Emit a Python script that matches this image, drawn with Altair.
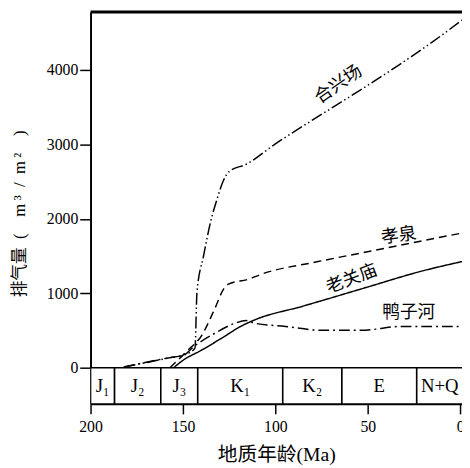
import altair as alt
import pandas as pd

# ---- data ----
# 合兴场 (dash-dot-dot)
ma_hxc = [182, 158, 148, 143.5, 142.4, 138.9, 134.4, 131.8, 128.2, 124.8, 115.8, 99.8, 77.4, 54.5, 33.2, 10.2, -1]
v_hxc = [10, 130, 185, 264, 1016, 1496, 2024, 2244, 2508, 2640, 2733, 3010, 3366, 3723, 4066, 4462, 4670]
# 孝泉 (dashed)
ma_xq = [157, 147.8, 139.8, 132.8, 128, 125.4, 114.7, 107.8, 76.9, 50.2, 23.6, -1]
v_xq = [0, 224, 436, 792, 1056, 1122, 1188, 1254, 1426, 1558, 1690, 1809]
# 老关庙 (solid)
ma_lgm = [155, 150.4, 139.8, 129.1, 118.4, 110.4, 85.4, 50.2, 21.4, -1]
v_lgm = [0, 92, 238, 396, 560, 650, 825, 1083, 1294, 1426]
# 鸭子河 (dash-dot)
ma_yzh = [182, 158, 149.4, 145.1, 132.8, 122.2, 115.8, 111.5, 94.5, 74.7, 53.4, 32.1, -1]
v_yzh = [10, 132, 170, 264, 462, 594, 634, 600, 554, 502, 502, 554, 554]

series_names = ["合兴场", "孝泉", "老关庙", "鸭子河"]
series_dash = [[12, 3, 1.5, 3, 1.5, 3], [8, 5], [1, 0], [11, 4, 2, 4]]
label_ma = [65.7, 33.2, 58.7, 27.8]
label_v = [3802, 1769, 1188, 739]
label_angle = [325, 352, 339, 0]

# stratigraphic column
band_labels = ["J₁", "J₂", "J₃", "K₁", "K₂", "E", "N+Q"]
band_start = [200, 187, 162, 142, 96, 64, 23.5]
band_end = [187, 162, 142, 96, 64, 23.5, -6]
band_label_ma = [193.5, 174.5, 152, 119, 80, 43.75, 11]

x_ticks = [200, 150, 100, 50, 0]
y_ticks = [0, 1000, 2000, 3000, 4000]
x_dom = [200, -1]
y_dom = [-488, 4779]
band_bottom = -488

W, H = 378, 399
SERIF = "'Liberation Serif', 'Noto Sans CJK SC', serif"
CJK = "'Noto Sans CJK SC'"

y_title = "排气量\u2002(\u2003m\u2009³\u2002/\u2002m\u2009²\u2003)"

rows = []
for name, mas, vs in [("合兴场", ma_hxc, v_hxc), ("孝泉", ma_xq, v_xq),
                      ("老关庙", ma_lgm, v_lgm), ("鸭子河", ma_yzh, v_yzh)]:
    for i, (m, v) in enumerate(zip(mas, vs)):
        rows.append({"series": name, "ma": m, "v": v, "order": i})
df = pd.DataFrame(rows)

xs = alt.Scale(domain=x_dom, nice=False, zero=False)
ys = alt.Scale(domain=y_dom, nice=False, zero=False)

x_axis = alt.Axis(values=x_ticks, title="地质年龄(Ma)", grid=False, tickSize=10,
                  labelPadding=5, labelFontSize=16, labelFont=SERIF, domainColor="black",
                  domainWidth=1.6, tickColor="black", tickWidth=1.5, labelColor="black",
                  titleFont=SERIF, titleFontSize=20, titleFontWeight="normal",
                  titlePadding=10, titleColor="black", labelFlush=False)
y_axis = alt.Axis(values=y_ticks, title=y_title, grid=False, tickSize=11,
                  labelPadding=2, labelFontSize=16, labelFont=SERIF, domainColor="black",
                  domainWidth=2, tickColor="black", tickWidth=1.5, labelColor="black",
                  titleFont=SERIF, titleFontSize=17, titleFontWeight="normal",
                  titleColor="black", titleX=-72, titleY=205, titleBaseline="middle",
                  titleAngle=270, format="d")

base = alt.Chart(df)

layers = []
for name, dash in zip(series_names, series_dash):
    layers.append(
        base.transform_filter(alt.datum.series == name).mark_line(
            color="black", strokeWidth=1.5, strokeDash=dash, interpolate="monotone", clip=True
        ).encode(
            x=alt.X("ma:Q", scale=xs, axis=x_axis),
            y=alt.Y("v:Q", scale=ys, axis=y_axis),
            order="order:Q",
        )
    )

lab_df = pd.DataFrame({"name": series_names, "ma": label_ma, "v": label_v, "ang": label_angle})
for i in range(len(series_names)):
    layers.append(
        alt.Chart(lab_df.iloc[[i]]).mark_text(
            font=CJK, fontSize=18, color="black", angle=label_angle[i],
            align="center", baseline="middle"
        ).encode(x=alt.X("ma:Q", scale=xs), y=alt.Y("v:Q", scale=ys), text="name:N")
    )

band_df = pd.DataFrame({"lab": band_labels, "s": band_start, "e": band_end,
                        "c": band_label_ma, "lo": [band_bottom] * 7, "hi": [0] * 7,
                        "mid": [band_bottom / 2] * 7})
band_rect = alt.Chart(band_df).mark_rect(
    fill="white", stroke="black", strokeWidth=1.6, clip=True
).encode(x=alt.X("s:Q", scale=xs), x2="e:Q", y=alt.Y("lo:Q", scale=ys), y2="hi:Q")
band_text = alt.Chart(band_df).mark_text(
    font=SERIF, fontSize=19, color="black", align="center", baseline="middle"
).encode(x=alt.X("c:Q", scale=xs), y=alt.Y("mid:Q", scale=ys), text="lab:N")

top_border = alt.Chart(band_df.iloc[[0]]).mark_rule(color="black", strokeWidth=3).encode(
    x=alt.value(0), x2=alt.value(W), y=alt.value(0)
)

chart = alt.layer(band_rect, band_text, *layers, top_border).properties(
    width=W, height=H, autosize=alt.AutoSizeParams(type="none"),
    padding={"left": 84, "top": 0, "right": 0, "bottom": 59},
).configure_view(stroke=None).configure(background="white")

chart.save("out.html", embed_options={"renderer": "svg", "actions": False})
